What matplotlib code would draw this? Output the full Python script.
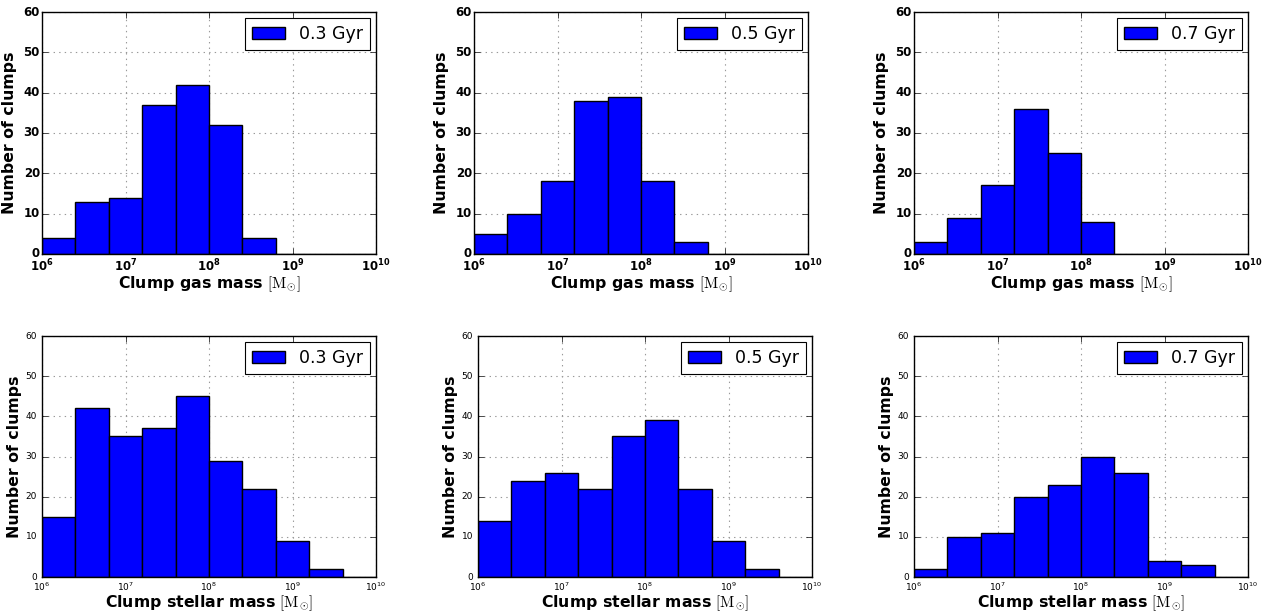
import numpy as np
import matplotlib
matplotlib.use('Agg')
import matplotlib.pyplot as plt

plt.style.use('classic')
plt.rcParams['mathtext.fontset'] = 'cm'
plt.rcParams['font.family'] = 'DejaVu Sans'

# bin edges in log10(M)
log_edges = np.linspace(6, 10, 11)
edges = 10**log_edges

ages = ['0.3 Gyr', '0.5 Gyr', '0.7 Gyr']
gas_03 = [4, 13, 14, 37, 42, 32, 4, 0, 0, 0]
gas_05 = [5, 10, 18, 38, 39, 18, 3, 0, 0, 0]
gas_07 = [3, 9, 17, 36, 25, 8, 0, 0, 0, 0]
star_03 = [15, 42, 35, 37, 45, 29, 22, 9, 2, 0]
star_05 = [14, 24, 26, 22, 35, 39, 22, 9, 2, 0]
star_07 = [2, 10, 11, 20, 23, 30, 26, 4, 3, 0]

fig = plt.figure(figsize=(12.66, 6.13), dpi=100)
fig.patch.set_facecolor('white')

W, H = 1266., 613.
top_x = [42, 474, 914]
bot_x = [42, 478, 914]
pw = 334

def panel(x0, y0, y1, counts, age, xlabel, top):
    ax = fig.add_axes([x0/W, 1-y1/H, pw/W, (y1-y0)/H])
    ax.bar(edges[:-1], counts, width=np.diff(edges), align='edge',
           color='b', edgecolor='k', linewidth=1, label=age)
    ax.set_xscale('log')
    ax.set_xlim(1e6, 1e10)
    ax.set_ylim(0, 60)
    ax.set_yticks([0, 10, 20, 30, 40, 50, 60])
    ax.grid(True, color='0.6', linestyle=':', linewidth=0.8)
    ax.set_axisbelow(True)
    ax.minorticks_off()
    ax.set_xticks([1e6, 1e7, 1e8, 1e9, 1e10])
    if top:
        ax.tick_params(axis='y', labelsize=8.5, pad=1.5)
        ax.tick_params(axis='x', labelsize=8.5, pad=2.5)
        for t in ax.get_xticklabels() + ax.get_yticklabels():
            t.set_fontweight('bold')
        lp = 5
    else:
        ax.tick_params(axis='y', labelsize=6.5, pad=3.5)
        ax.tick_params(axis='x', labelsize=6.5, pad=2.5)
        lp = 2.5
    ax.set_ylabel('Number of clumps', fontsize=11.3, fontweight='bold',
                  labelpad=lp)
    ax.set_xlabel(xlabel + r' $\left[\mathrm{M}_{\odot}\right]$', fontsize=11.3,
                  fontweight='bold', labelpad=0)
    leg = ax.legend(loc='upper right', fontsize=12.5, handlelength=1.9,
                    frameon=True, fancybox=False, borderaxespad=0.35)
    leg.get_frame().set_linewidth(0.8)
    return ax

gas = [gas_03, gas_05, gas_07]
star = [star_03, star_05, star_07]
for i in range(3):
    panel(top_x[i], 12, 254, gas[i], ages[i], 'Clump gas mass', True)
    panel(bot_x[i], 336, 577, star[i], ages[i], 'Clump stellar mass', False)

fig.savefig('out.png', dpi=100, facecolor='white')
